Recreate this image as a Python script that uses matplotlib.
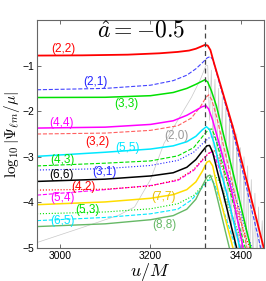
import numpy as np
import matplotlib
matplotlib.use('Agg')
import matplotlib.pyplot as plt

plt.rcParams['mathtext.fontset'] = 'cm'
plt.rcParams['font.family'] = ['Liberation Sans', 'DejaVu Sans']

# curves: (u/M, log10|Psi/mu|)
u_22 = [2950, 3050, 3150, 3220, 3260, 3285, 3300, 3312, 3320, 3326, 3332, 3340, 3355, 3383, 3420, 3452]
v_22 = [-0.78, -0.775, -0.76, -0.73, -0.70, -0.67, -0.63, -0.58, -0.545, -0.56, -0.66, -0.95, -1.45, -2.4, -3.84, -5.1]

u_21 = [2950, 3100, 3200, 3250, 3280, 3300, 3315, 3325, 3332, 3338, 3348, 3376, 3405, 3444]
v_21 = [-1.53, -1.50, -1.43, -1.33, -1.21, -1.07, -0.93, -0.83, -0.80, -0.88, -1.25, -2.23, -3.4, -5.05]

u_33 = [2950, 3100, 3200, 3250, 3280, 3300, 3312, 3320, 3326, 3334, 3345, 3383, 3422]
v_33 = [-1.70, -1.695, -1.66, -1.59, -1.50, -1.41, -1.35, -1.31, -1.36, -1.55, -1.88, -3.4, -5.05]

u_44 = [2950, 3100, 3200, 3250, 3280, 3300, 3314, 3322, 3328, 3337, 3358, 3380, 3405]
v_44 = [-2.37, -2.35, -2.29, -2.21, -2.09, -1.98, -1.90, -1.88, -1.95, -2.2, -2.95, -3.8, -5.05]

u_32 = [2950, 3100, 3200, 3260, 3290, 3310, 3322, 3328, 3335, 3345, 3375, 3414]
v_32 = [-2.50, -2.48, -2.42, -2.32, -2.15, -1.90, -1.70, -1.64, -1.75, -2.1, -3.35, -5.05]

u_55 = [2950, 3100, 3200, 3250, 3280, 3300, 3314, 3323, 3330, 3340, 3354, 3369, 3398]
v_55 = [-2.99, -2.90, -2.83, -2.76, -2.67, -2.55, -2.41, -2.34, -2.40, -2.7, -3.3, -3.84, -5.05]

u_43 = [2950, 3100, 3200, 3260, 3295, 3315, 3328, 3335, 3342, 3360, 3410]
v_43 = [-3.20, -3.14, -3.09, -2.98, -2.80, -2.55, -2.40, -2.39, -2.55, -3.2, -5.05]

u_31 = [2950, 3100, 3200, 3260, 3295, 3318, 3332, 3340, 3350, 3425]
v_31 = [-3.29, -3.26, -3.19, -3.08, -2.90, -2.68, -2.56, -2.56, -2.75, -5.05]

u_66 = [2950, 3100, 3200, 3250, 3280, 3300, 3314, 3324, 3330, 3337, 3348, 3361, 3391]
v_66 = [-3.54, -3.49, -3.42, -3.35, -3.23, -3.06, -2.88, -2.76, -2.75, -2.9, -3.35, -3.84, -5.05]

u_42 = [2950, 3100, 3200, 3260, 3295, 3318, 3333, 3342, 3352, 3420]
v_42 = [-3.73, -3.71, -3.64, -3.50, -3.28, -3.02, -2.88, -2.87, -3.05, -5.05]

u_54 = [2950, 3100, 3200, 3260, 3295, 3315, 3327, 3334, 3342, 3360, 3400]
v_54 = [-3.84, -3.72, -3.63, -3.52, -3.30, -3.07, -2.93, -2.90, -3.0, -3.5, -5.05]

u_77 = [2950, 3100, 3200, 3250, 3280, 3300, 3314, 3324, 3330, 3337, 3350, 3383]
v_77 = [-4.05, -3.99, -3.91, -3.83, -3.72, -3.55, -3.32, -3.12, -3.09, -3.2, -3.8, -5.05]

u_53 = [2950, 3100, 3200, 3260, 3295, 3318, 3333, 3342, 3352, 3408]
v_53 = [-4.25, -4.21, -4.14, -4.03, -3.85, -3.60, -3.43, -3.41, -3.55, -5.05]

u_65 = [2950, 3100, 3200, 3260, 3290, 3312, 3326, 3334, 3342, 3390]
v_65 = [-4.40, -4.33, -4.25, -4.15, -3.95, -3.70, -3.52, -3.50, -3.62, -5.05]

u_88 = [2950, 3100, 3200, 3250, 3280, 3300, 3314, 3325, 3331, 3338, 3347, 3375]
v_88 = [-4.53, -4.47, -4.38, -4.29, -4.15, -3.93, -3.64, -3.43, -3.40, -3.55, -3.9, -5.05]

u_20 = [2950, 3050, 3130, 3165, 3200, 3230, 3260, 3290, 3310, 3322,
        3326, 3330, 3334, 3338, 3342, 3346, 3350, 3354, 3358, 3362, 3366,
        3370, 3374, 3378, 3382, 3386, 3390, 3394, 3398, 3402, 3406, 3410,
        3414, 3418, 3422, 3426, 3430, 3434, 3438, 3442, 3446, 3450]
v_20 = [-4.88, -4.55, -4.28, -4.10, -3.50, -2.70, -2.20, -1.70, -1.30, -1.00,
        -1.0, -2.2, -1.1, -2.8, -1.3, -3.2, -1.5, -3.6, -1.7, -4.0, -1.9,
        -4.4, -2.1, -4.8, -2.3, -5.2, -2.5, -5.5, -2.8, -5.5, -3.0, -5.5,
        -3.2, -5.5, -3.5, -5.5, -3.8, -5.5, -4.1, -5.5, -4.4, -5.5]

peak_u = 3320

# label text, position (u, v), colour
lab_text = ['(2,2)', '(2,1)', '(3,3)', '(4,4)', '(3,2)', '(5,5)', '(2,0)', '(4,3)',
            '(6,6)', '(3,1)', '(4,2)', '(5,4)', '(5,3)', '(6,5)', '(7,7)', '(8,8)']
lab_u = [3007, 3079, 3147, 3004, 3084, 3149, 3257, 3007,
         3004, 3099, 3053, 3007, 3062, 3007, 3229, 3231]
lab_v = [-0.63, -1.37, -1.84, -2.25, -2.67, -2.80, -2.54, -3.07,
         -3.40, -3.33, -3.66, -3.90, -4.16, -4.41, -3.88, -4.49]

c_red = '#ff0000'
c_blue = '#2222ff'
c_green = '#00e000'
c_mag = '#ff00ff'
c_cyan = '#00e8ff'
c_yel = '#ffdd00'
c_lgreen = '#66b866'
c_gray = '#c8c8c8'

lab_col = [c_red, c_blue, c_green, c_mag, c_red, c_cyan, '#999999', c_green,
           'k', c_blue, c_red, c_mag, c_green, c_cyan, '#e8c000', c_lgreen]

fig = plt.figure(figsize=(2.66, 2.81), dpi=100)
ax = fig.add_axes([37 / 266, 33 / 281, 227 / 266, 228 / 281])

ax.plot(u_20, v_20, color=c_gray, lw=0.5)
ax.plot(u_65, v_65, color=c_cyan, lw=0.8, ls='--')
ax.plot(u_53, v_53, color=c_green, lw=0.8, ls=':')
ax.plot(u_54, v_54, color=c_mag, lw=0.8, ls='--')
ax.plot(u_42, v_42, color=c_red, lw=0.8, ls=':')
ax.plot(u_31, v_31, color=c_blue, lw=0.8, ls=':')
ax.plot(u_43, v_43, color=c_green, lw=0.8, ls='--')
ax.plot(u_32, v_32, color='#ff6060', lw=0.8, ls='--')
ax.plot(u_21, v_21, color='#4444ff', lw=0.8, ls='--')
ax.plot(u_88, v_88, color=c_lgreen, lw=1.0)
ax.plot(u_77, v_77, color=c_yel, lw=1.1)
ax.plot(u_66, v_66, color='k', lw=1.1)
ax.plot(u_55, v_55, color=c_cyan, lw=1.1)
ax.plot(u_44, v_44, color=c_mag, lw=1.1)
ax.plot(u_33, v_33, color=c_green, lw=1.1)
ax.plot(u_22, v_22, color=c_red, lw=1.3)

ax.axvline(peak_u, color='#444444', lw=0.9, ls=(0, (4, 3)))

for t, x, y, c in zip(lab_text, lab_u, lab_v, lab_col):
    ax.text(x, y, t, color=c, fontsize=8.5, ha='center', va='center')

ax.text(3180, -0.25, r'$\hat{a} = -0.5$', fontsize=17, ha='center', va='center')

ax.set_xlim(2950, 3450)
ax.set_ylim(-5, 0)
ax.set_xticks([3000, 3200, 3400])
ax.set_yticks([-1, -2, -3, -4, -5])
ax.tick_params(direction='in', length=3, width=0.6, colors='#555555',
               labelcolor='k', labelsize=7.5, top=True, right=True, pad=2)
for s in ax.spines.values():
    s.set_color('#666666')
    s.set_linewidth(0.8)

ax.set_xlabel(r'$u/M$', fontsize=13)
ax.xaxis.set_label_coords(0.5, -0.055)
ax.set_ylabel(r'$\log_{10}|\Psi_{\ell m}/\mu|$', fontsize=11)
ax.yaxis.set_label_coords(-0.065, 0.5)

fig.savefig('out.png', dpi=100)
